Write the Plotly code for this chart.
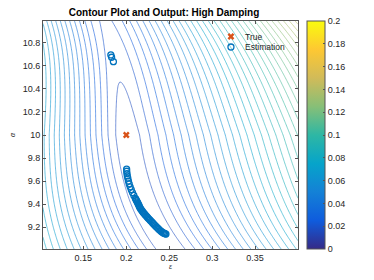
import numpy as np
import plotly.graph_objects as go

# ---- axis extents ----
eps_range = [0.103, 0.400]
a_range = [9.01, 10.99]

# ---- shape of the cost surface ----
valley_a = [9.0, 9.5, 10.0, 10.46, 11.0]
valley_eps = [0.252, 0.215, 0.200, 0.193, 0.175]
floor_a = [9.0, 10.0, 10.46, 11.0]
floor_z = [0.0170, 0.0175, 0.0200, 0.0232]
slope_a = [9.0, 10.0, 11.0]
slope_left = [0.50, 0.70, 0.80]
slope_right = [0.46, 0.48, 0.60]
valley_width = 0.02

# ---- markers ----
true_eps = [0.200]
true_a = [10.00]
est_eps = [0.1820, 0.1829, 0.1850,
           0.2004, 0.2005, 0.2008, 0.2012, 0.2018, 0.2025, 0.2034, 0.2045, 0.2058,
           0.2072, 0.2088, 0.2105, 0.2112, 0.2120, 0.2127, 0.2133, 0.2140, 0.2146,
           0.2152, 0.2158, 0.2166, 0.2175, 0.2185, 0.2195, 0.2206, 0.2217, 0.2228,
           0.2240, 0.2252, 0.2265, 0.2277, 0.2290, 0.2302, 0.2315, 0.2327, 0.2340,
           0.2353, 0.2367, 0.2381, 0.2395, 0.2408, 0.2420, 0.2433, 0.2445, 0.2455, 0.2462]
est_a = [10.695, 10.675, 10.637,
         9.704, 9.685, 9.665, 9.645, 9.625, 9.600, 9.575, 9.550, 9.525,
         9.500, 9.475, 9.450, 9.440, 9.430, 9.420, 9.410, 9.400, 9.390,
         9.380, 9.370, 9.360, 9.350, 9.340, 9.330, 9.320, 9.310, 9.300,
         9.290, 9.280, 9.270, 9.260, 9.250, 9.240, 9.230, 9.220, 9.210,
         9.200, 9.190, 9.180, 9.170, 9.162, 9.155, 9.150, 9.145, 9.142, 9.140]

# ---- ticks ----
x_ticks = [0.15, 0.20, 0.25, 0.30, 0.35]
x_labels = ["0.15", "0.2", "0.25", "0.3", "0.35"]
y_ticks = [9.2, 9.4, 9.6, 9.8, 10.0, 10.2, 10.4, 10.6, 10.8]
y_labels = ["9.2", "9.4", "9.6", "9.8", "10", "10.2", "10.4", "10.6", "10.8"]
c_ticks = [0, 0.02, 0.04, 0.06, 0.08, 0.1, 0.12, 0.14, 0.16, 0.18, 0.2]
c_labels = ["0", "0.02", "0.04", "0.06", "0.08", "0.1", "0.12", "0.14", "0.16", "0.18", "0.2"]
legend_names = ["True", "Estimation"]

parula = [
    [0.000, "#352a87"],
    [0.125, "#0f5cdd"],
    [0.250, "#1481d6"],
    [0.375, "#06a4ca"],
    [0.500, "#2eb7a4"],
    [0.625, "#87bf77"],
    [0.750, "#d1bb59"],
    [0.875, "#fec832"],
    [1.000, "#f9fb0e"],
]

# ---- evaluation grid ----
E = np.linspace(eps_range[0], eps_range[1], 181)
A = np.linspace(a_range[0], a_range[1], 181)
EE, AA = np.meshgrid(E, A)

c_poly = np.polyfit(valley_a, valley_eps, 3)
sl_poly = np.polyfit(slope_a, slope_left, 2)
sr_poly = np.polyfit(slope_a, slope_right, 2)
centre = np.polyval(c_poly, AA)
floor = np.interp(AA, floor_a, floor_z)
d = EE - centre
g = np.sqrt(d ** 2 + valley_width ** 2) - valley_width
s = np.where(d < 0, np.polyval(sl_poly, AA), np.polyval(sr_poly, AA))
Z = floor + s * g

font = "Liberation Sans, Arial, sans-serif"
txt = "#262626"
true_col = "#D95319"
est_col = "#0072BD"

fig = go.Figure()
fig.add_trace(go.Contour(
    x=E, y=A, z=Z,
    colorscale=parula, zmin=0, zmax=0.2,
    contours=dict(coloring="lines", start=0.004, end=0.2, size=0.004, showlabels=False),
    line=dict(width=0.6),
    showscale=False, showlegend=False, hoverinfo="skip",
))
# dummy trace only to carry the continuous colour bar
fig.add_trace(go.Scatter(
    x=[0.3, 0.3], y=[10.0, 10.0], mode="markers",
    marker=dict(size=1, color=[0, 0.2], cmin=0, cmax=0.2, colorscale=parula, opacity=0,
                showscale=True,
                colorbar=dict(x=1.035, xanchor="left", y=0.5, yanchor="middle", len=1.0,
                              lenmode="fraction", thickness=18, thicknessmode="pixels",
                              outlinecolor="#555555", outlinewidth=1,
                              tickvals=c_ticks, ticktext=c_labels, ticks="inside", ticklen=2,
                              tickcolor="#555555",
                              tickfont=dict(size=9, color=txt, family=font), xpad=0, ypad=0)),
    showlegend=False, hoverinfo="skip",
))
fig.add_trace(go.Scatter(
    x=true_eps, y=true_a, mode="markers", name=legend_names[0], showlegend=False,
    marker=dict(symbol="x", size=6, color=true_col, line=dict(width=0)),
))
fig.add_trace(go.Scatter(
    x=est_eps, y=est_a, mode="markers", name=legend_names[1], showlegend=False,
    marker=dict(symbol="circle-open", size=6, color=est_col, line=dict(width=1.3)),
))

# hand-built legend (key glyphs on an invisible unit overlay axis)
key_x = 0.737
key_y = [0.932, 0.886]
fig.add_trace(go.Scatter(
    x=[key_x], y=[key_y[0]], xaxis="x2", yaxis="y2", mode="markers", showlegend=False,
    hoverinfo="skip", marker=dict(symbol="x", size=6, color=true_col, line=dict(width=0)),
))
fig.add_trace(go.Scatter(
    x=[key_x], y=[key_y[1]], xaxis="x2", yaxis="y2", mode="markers", showlegend=False,
    hoverinfo="skip", marker=dict(symbol="circle-open", size=6, color=est_col, line=dict(width=1.3)),
))
for name, yy in zip(legend_names, key_y):
    fig.add_annotation(x=0.786, y=yy, xref="paper", yref="paper", text=name, showarrow=False,
                       xanchor="left", yanchor="middle", font=dict(size=8.5, color=txt, family=font))

fig.update_layout(
    width=374, height=280,
    margin=dict(l=43, r=76, t=21, b=31, autoexpand=False),
    paper_bgcolor="white", plot_bgcolor="white",
    font=dict(family=font, size=9, color=txt),
    title=dict(text="<b>Contour Plot and Output: High Damping</b>", x=164 / 374,
               xanchor="center", y=1 - 12 / 280, yanchor="middle",
               font=dict(size=10, color="#000000", family=font)),
    showlegend=False,
    hovermode=False,
    xaxis2=dict(overlaying="x", range=[0, 1], visible=False, fixedrange=True),
    yaxis2=dict(overlaying="y", range=[0, 1], visible=False, fixedrange=True),
    xaxis=dict(range=eps_range, tickvals=x_ticks, ticktext=x_labels, showgrid=False,
               zeroline=False, showline=True, linecolor="#555555", linewidth=1, mirror="ticks",
               ticks="inside", ticklen=3, tickcolor="#555555", automargin=False,
               tickfont=dict(size=9),
               title=dict(text="<i>ε</i>", font=dict(size=7), standoff=1)),
    yaxis=dict(range=a_range, tickvals=y_ticks, ticktext=y_labels, showgrid=False,
               zeroline=False, showline=True, linecolor="#555555", linewidth=1, mirror="ticks",
               ticks="inside", ticklen=3, tickcolor="#555555", automargin=False,
               tickfont=dict(size=9),
               title=dict(text="<i>α</i>", font=dict(size=7), standoff=6)),
)

fig.write_html("out.html", config={"displayModeBar": False, "staticPlot": True},
               post_script="document.body.style.margin='0px';")
